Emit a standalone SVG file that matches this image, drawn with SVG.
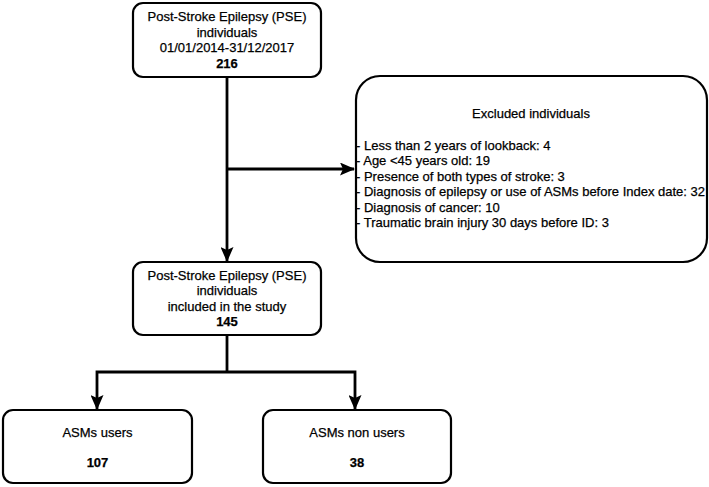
<svg xmlns="http://www.w3.org/2000/svg" width="709" height="487" viewBox="0 0 709 487">
  <style>
    .box { fill: #ffffff; stroke: #000000; stroke-width: 2.2; }
    .edge { fill: none; stroke: #000000; stroke-width: 2.8; }
    text { font-family: "Liberation Sans", Arial, sans-serif; font-size: 13px; fill: #000000; stroke: #000000; stroke-width: 0.25; }
    .c { text-anchor: middle; }
    .b { font-weight: bold; }
  </style>
  <defs>
    <marker id="arrow" viewBox="0 0 15 13" refX="14" refY="6.5" markerWidth="15" markerHeight="13" markerUnits="userSpaceOnUse" orient="auto">
      <path d="M0,0 L15,6.5 L0,13 L3,6.5 Z" fill="#000000"/>
    </marker>
  </defs>
  <rect width="709" height="487" fill="#ffffff"/>

  <g id="connectors">
    <!-- trunk from the source cohort to the study cohort -->
    <path class="edge" d="M227,77 L227,261" marker-end="url(#arrow)"/>
    <!-- branch to the exclusions -->
    <path class="edge" d="M227,169 L354,169" marker-end="url(#arrow)"/>
    <!-- split into the two groups -->
    <path class="edge" d="M227,335 L227,372"/>
    <path class="edge" d="M227,372 L97,372 L97,409" marker-end="url(#arrow)"/>
    <path class="edge" d="M227,372 L355,372 L355,409" marker-end="url(#arrow)"/>
  </g>

  <g id="pse-all">
    <rect class="box" x="133" y="3" width="188" height="74" rx="10"/>
    <text class="c" x="227" y="21">Post-Stroke Epilepsy (PSE)</text>
    <text class="c" x="227" y="36.5">individuals</text>
    <text class="c" x="227" y="52">01/01/2014-31/12/2017</text>
    <text class="c b" x="227" y="67.5">216</text>
  </g>

  <g id="excluded">
    <rect class="box" x="356" y="76" width="351" height="186" rx="24"/>
    <text class="c" x="531" y="117.5">Excluded individuals</text>
    <text x="356" y="149.5">- Less than 2 years of lookback: 4</text>
    <text x="356" y="165">- Age &lt;45 years old: 19</text>
    <text x="356" y="180.5">- Presence of both types of stroke: 3</text>
    <text x="356" y="196">- Diagnosis of epilepsy or use of ASMs before Index date: 32</text>
    <text x="356" y="211.5">- Diagnosis of cancer: 10</text>
    <text x="356" y="227">- Traumatic brain injury 30 days before ID: 3</text>
  </g>

  <g id="pse-included">
    <rect class="box" x="133" y="262" width="188" height="73" rx="10"/>
    <text class="c" x="227" y="279.5">Post-Stroke Epilepsy (PSE)</text>
    <text class="c" x="227" y="295">individuals</text>
    <text class="c" x="227" y="310.5">included in the study</text>
    <text class="c b" x="227" y="326">145</text>
  </g>

  <g id="asm-users">
    <rect class="box" x="3" y="410" width="189" height="73" rx="10"/>
    <text class="c" x="97.5" y="436.5">ASMs users</text>
    <text class="c b" x="97.5" y="466.5">107</text>
  </g>

  <g id="asm-non-users">
    <rect class="box" x="263" y="410" width="188" height="73" rx="10"/>
    <text class="c" x="357" y="436.5">ASMs non users</text>
    <text class="c b" x="357" y="466.5">38</text>
  </g>
</svg>
